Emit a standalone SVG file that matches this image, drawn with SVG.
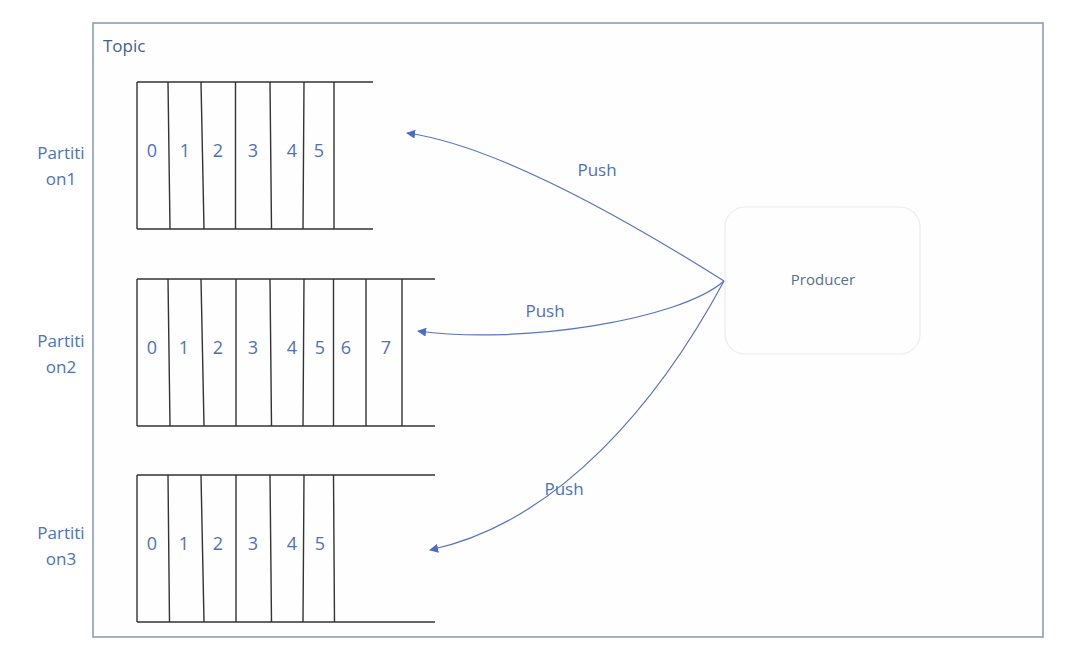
<svg xmlns="http://www.w3.org/2000/svg" width="1070" height="665" viewBox="0 0 1070 665">
<style>
.frame{fill:#fefefe;stroke:#8496ad;stroke-width:1.5}
.ln{stroke:#333;stroke-width:1.4;fill:none}
.dg{font-family:"Open Sans",sans-serif;font-size:18px;fill:#4d72b8;text-anchor:middle}
.pl{font-family:"Open Sans",sans-serif;font-size:17px;fill:#4d72b8;text-anchor:middle}
.push{font-family:"Open Sans",sans-serif;font-size:17px;fill:#4d72b8;text-anchor:middle}
.conn{fill:none;stroke:#5a73c0;stroke-width:1.2;marker-end:url(#ah)}
</style>
<defs>
<marker id="ah" viewBox="0 0 10 10" refX="9" refY="5" markerWidth="9" markerHeight="9" markerUnits="userSpaceOnUse" orient="auto">
<path d="M0,0 L10,5 L0,10 z" fill="#4a6cc4"/>
</marker>
</defs>
<rect width="1070" height="665" fill="#ffffff"/>
<g id="topic">
<rect class="frame" x="93" y="23" width="950" height="614"/>
<text x="103" y="52" font-family="Open Sans, sans-serif" font-size="17" fill="#45608f">Topic</text>
</g>
<g id="partition1">
<text class="pl" x="61" y="159">Partiti</text>
<text class="pl" x="61" y="185">on1</text>
<path class="ln" d="M137,82 H373 M137,229 H373 M137,82 V229 M168,82 L170,229 M201,82 L204,229 M235.5,82 V229 M270,82 L271.5,229 M304,82 L303,229 M334,82 V229"/>
<text class="dg" x="152" y="157">0</text>
<text class="dg" x="185" y="157">1</text>
<text class="dg" x="218" y="157">2</text>
<text class="dg" x="253" y="157">3</text>
<text class="dg" x="292" y="157">4</text>
<text class="dg" x="319" y="157">5</text>
</g>
<g id="partition2">
<text class="pl" x="61" y="347">Partiti</text>
<text class="pl" x="61" y="373">on2</text>
<path class="ln" d="M137,279 H435 M137,426 H435 M137,279 V426 M168,279 L170,426 M201,279 L204,426 M236,279 V426 M270,279 L271.5,426 M304,279 L303,426 M333.5,279 V426 M366,279 V426 M402,279 V426"/>
<text class="dg" x="152" y="354">0</text>
<text class="dg" x="184" y="354">1</text>
<text class="dg" x="218" y="354">2</text>
<text class="dg" x="253" y="354">3</text>
<text class="dg" x="292" y="354">4</text>
<text class="dg" x="320" y="354">5</text>
<text class="dg" x="346" y="354">6</text>
<text class="dg" x="386" y="354">7</text>
</g>
<g id="partition3">
<text class="pl" x="61" y="539">Partiti</text>
<text class="pl" x="61" y="565">on3</text>
<path class="ln" d="M137,475 H435 M137,622 H435 M137,475 V622 M168,475 L169.5,622 M201,475 L204,622 M236,475 V622 M270,475 L271.5,622 M304,475 L303,622 M333.5,475 L334.5,622"/>
<text class="dg" x="152" y="550">0</text>
<text class="dg" x="184" y="550">1</text>
<text class="dg" x="218" y="550">2</text>
<text class="dg" x="253" y="550">3</text>
<text class="dg" x="292" y="550">4</text>
<text class="dg" x="320" y="550">5</text>
</g>
<g id="producer">
<rect x="725" y="207" width="195" height="147" rx="20" ry="20" fill="#fefefe" stroke="#ebebf2" stroke-width="1.2"/>
<text x="823" y="285" font-family="Open Sans, sans-serif" font-size="15" fill="#5b6f8c" text-anchor="middle">Producer</text>
</g>
<g id="connectors">
<path class="conn" d="M724,281 C640,228 500,146 407,133"/>
<path class="conn" d="M724,281 C680,320 520,345 418,331"/>
<path class="conn" d="M724,281 C660,400 560,522 430,550"/>
<text class="push" x="597" y="176">Push</text>
<text class="push" x="545" y="317">Push</text>
<text class="push" x="564" y="495">Push</text>
</g>
</svg>
